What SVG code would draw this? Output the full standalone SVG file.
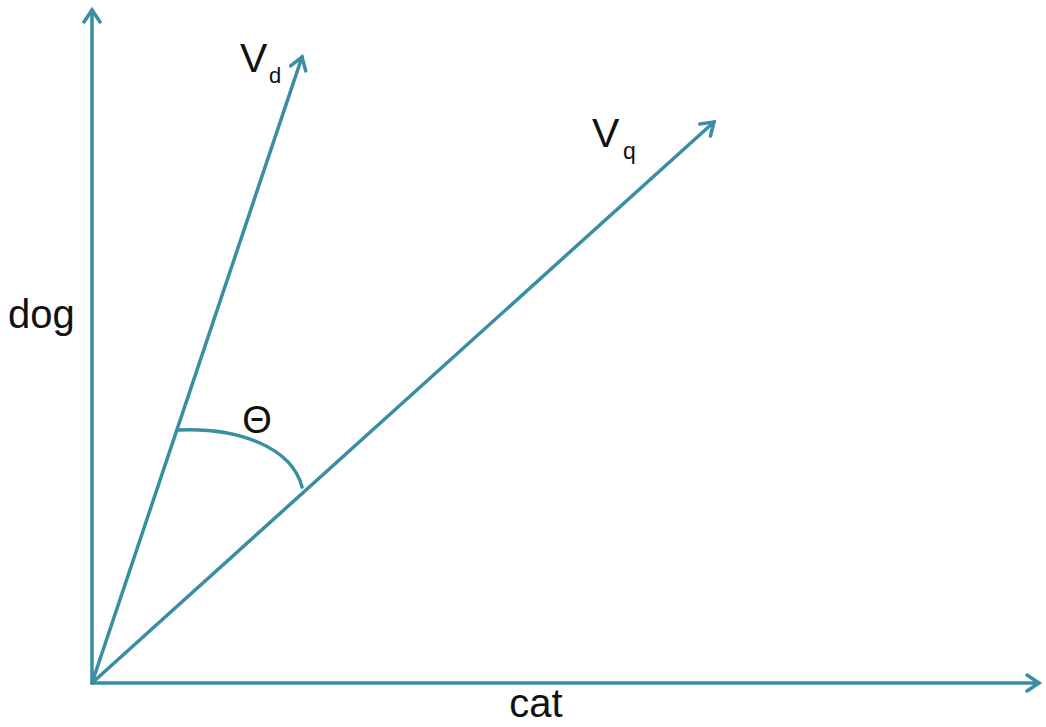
<svg xmlns="http://www.w3.org/2000/svg" width="1046" height="727" viewBox="0 0 1046 727">
<style>
.ax{stroke:#3b8da3;stroke-width:3.5;fill:none;stroke-linecap:round}
.t{font-family:"Liberation Sans",Arial,sans-serif;fill:#111}
</style>
<defs>
<marker id="ah" viewBox="0 0 20 20" refX="16" refY="10" markerWidth="20" markerHeight="20" markerUnits="userSpaceOnUse" orient="auto">
<polyline points="4,2 16,10 4,18" fill="none" stroke="#3b8da3" stroke-width="3.5" stroke-linejoin="miter" stroke-linecap="round"/>
</marker>
</defs>
<rect width="1046" height="727" fill="#fff"/>
<g id="connectors">
<line class="ax" x1="92" y1="683" x2="92" y2="10" marker-end="url(#ah)"/>
<line class="ax" x1="92" y1="683" x2="1039" y2="683" marker-end="url(#ah)"/>
<line class="ax" x1="92" y1="683" x2="302" y2="57" marker-end="url(#ah)"/>
<line class="ax" x1="92" y1="683" x2="714" y2="122" marker-end="url(#ah)"/>
<path class="ax" d="M177,430 C240,427 292,448 302,487"/>
</g>
<g id="label-dog"><text class="t" x="8" y="328" font-size="40">dog</text></g>
<g id="label-cat"><text class="t" x="536" y="717" font-size="40" text-anchor="middle">cat</text></g>
<g id="label-vd"><text class="t" x="240" y="72" font-size="41">V</text><text class="t" x="269" y="83" font-size="22">d</text></g>
<g id="label-vq"><text class="t" x="592" y="147" font-size="41">V</text><text class="t" x="623" y="159" font-size="23">q</text></g>
<g id="label-theta"><text class="t" x="257" y="433" font-size="38" text-anchor="middle">Θ</text></g>
</svg>
